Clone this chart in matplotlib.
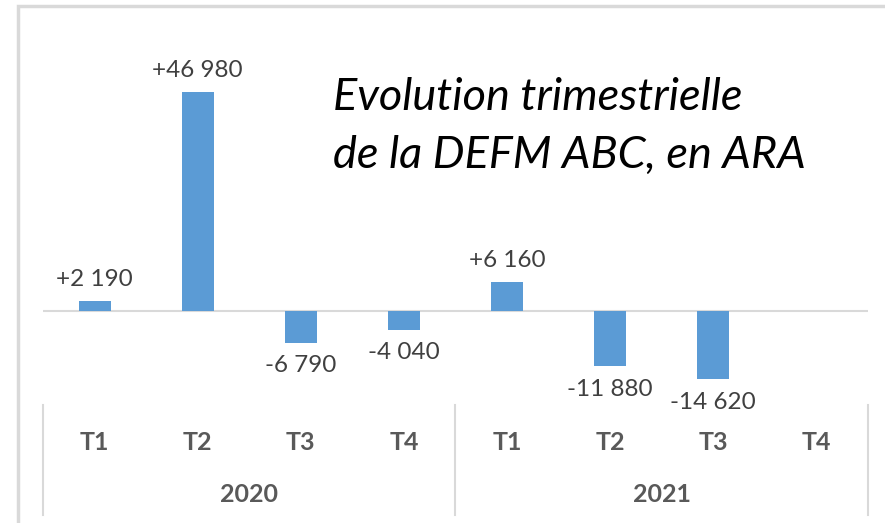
import matplotlib.pyplot as plt
from matplotlib.patches import Rectangle

# data
quarters = ['T1', 'T2', 'T3', 'T4', 'T1', 'T2', 'T3', 'T4']
years = ['2020', '2021']
values = [2190, 46980, -6790, -4040, 6160, -11880, -14620, None]
labels = ['+2 190', '+46 980', '-6 790', '-4 040', '+6 160', '-11 880', '-14 620', '']

plt.rcParams['font.family'] = ['Lato', 'DejaVu Sans']

fig = plt.figure(figsize=(8.85, 5.23), dpi=100)
W, H = 885, 523
ax = fig.add_axes([43 / W, 1 - 405 / H, 825 / W, 385 / H])

# chart border (cropped screenshot)
fig.patches.append(Rectangle((18 / W, -0.1), 1.2, 1 - 6 / H + 0.1,
                             transform=fig.transFigure, fill=False,
                             edgecolor='#d9d9d9', lw=2.5))

for i, v in enumerate(values):
    if v is None:
        continue
    ax.bar(i, v, width=0.31, color='#5b9bd5', zorder=3)
    if v >= 0:
        ax.annotate(labels[i], (i, v), xytext=(0, 8), textcoords='offset points',
                    ha='center', va='bottom', fontsize=17.5, color='#404040')
    else:
        ax.annotate(labels[i], (i, v), xytext=(0, -9), textcoords='offset points',
                    ha='center', va='top', fontsize=17.5, color='#404040')

ax.axhline(0, color='#d9d9d9', lw=1.5, zorder=1)
ax.set_xlim(-0.5, 7.5)
ax.set_ylim(-20160, 62420)
ax.axis('off')

# category axis
tr = ax.get_xaxis_transform()
for i, q in enumerate(quarters):
    ax.text(i, -(443 - 405) / 385, q, transform=tr, ha='center', va='center',
            fontsize=18, fontweight='bold', color='#595959')
for j, y in enumerate(years):
    ax.text(1.5 + 4 * j, -(494 - 405) / 385, y, transform=tr, ha='center', va='center',
            fontsize=18, fontweight='bold', color='#595959')
for sx in [-0.5, 3.5, 7.5]:
    ax.plot([sx, sx], [0, -(515 - 405) / 385], transform=tr, color='#d9d9d9',
            lw=1.5, clip_on=False)

fig.text(333 / W, 1 - 97 / H, 'Evolution trimestrielle', fontsize=32.5,
         style='italic', ha='left', va='center', color='black')
fig.text(333 / W, 1 - 155 / H, 'de la DEFM ABC, en ARA', fontsize=32.5,
         style='italic', ha='left', va='center', color='black')

fig.savefig('out.png', dpi=100)
